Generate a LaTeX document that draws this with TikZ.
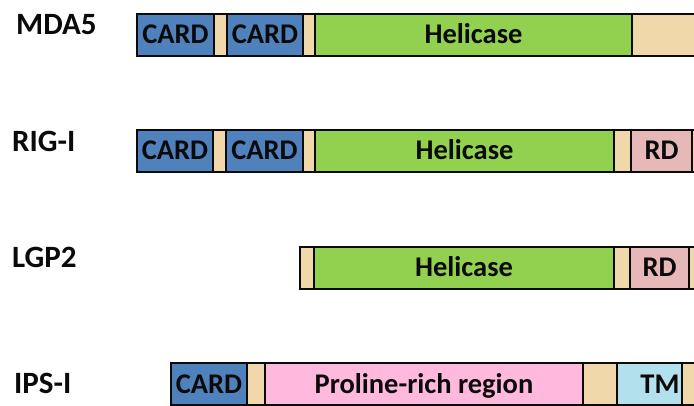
\documentclass[tikz,border=0pt]{standalone}
\usepackage{fontspec}
\setmainfont{Carlito}
\definecolor{cardblue}{RGB}{79,129,189}
\definecolor{helgreen}{RGB}{146,208,80}
\definecolor{linker}{RGB}{240,216,170}
\definecolor{rdpink}{RGB}{230,185,184}
\definecolor{propink}{RGB}{255,185,220}
\definecolor{tmblue}{RGB}{178,224,236}
\definecolor{ink}{RGB}{10,10,10}
\tikzset{
  seg/.style={draw=ink, line width=1.5pt, minimum height=42pt, inner sep=0pt,
    outer sep=0pt, anchor=north west, text=ink,
    font=\bfseries\fontsize{28.5}{32}\selectfont, text height=18pt, text depth=0pt},
  protname/.style={anchor=base west, inner sep=0pt, text=ink,
    font=\bfseries\fontsize{31}{36}\selectfont}
}
\begin{document}
\begin{tikzpicture}[x=1pt, y=-1pt]
\useasboundingbox (0,0) rectangle (694,406);
\clip (0,0) rectangle (694,406);

% MDA5
\node[protname] (lmda) at (16,35) {MDA5};
\node[seg, fill=cardblue, minimum width=77pt] (m1) at (137,14) {CARD};
\node[seg, fill=linker, minimum width=13pt] (m2) at (214,14) {};
\node[seg, fill=cardblue, minimum width=76pt] (m3) at (227,14) {CARD};
\node[seg, fill=linker, minimum width=12pt] (m4) at (303,14) {};
\node[seg, fill=helgreen, minimum width=317pt] (m5) at (315,14) {Helicase};
\node[seg, fill=linker, minimum width=80pt] (m6) at (632,14) {};

% RIG-I
\node[protname] (lrig) at (12,152) {RIG-I};
\node[seg, fill=cardblue, minimum width=76pt] (r1) at (137,130) {CARD};
\node[seg, fill=linker, minimum width=13pt] (r2) at (213,130) {};
\node[seg, fill=cardblue, minimum width=77pt] (r3) at (226,130) {CARD};
\node[seg, fill=linker, minimum width=12pt] (r4) at (303,130) {};
\node[seg, fill=helgreen, minimum width=299pt] (r5) at (315,130) {Helicase};
\node[seg, fill=linker, minimum width=17pt] (r6) at (614,130) {};
\node[seg, fill=rdpink, minimum width=61pt] (r7) at (631,130) {RD};
\node[seg, fill=linker, minimum width=20pt] (r8) at (692,130) {};

% LGP2
\node[protname] (llgp) at (12,268) {LGP2};
\node[seg, fill=linker, minimum width=14pt] (g1) at (300,247) {};
\node[seg, fill=helgreen, minimum width=300pt] (g2) at (314,247) {Helicase};
\node[seg, fill=linker, minimum width=16pt] (g3) at (614,247) {};
\node[seg, fill=rdpink, minimum width=59pt] (g4) at (630,247) {RD};
\node[seg, fill=linker, minimum width=20pt] (g5) at (689,247) {};

% IPS-I
\node[protname] (lips) at (14,393) {IPS-I};
\node[seg, fill=cardblue, minimum width=76pt] (i1) at (171,363) {CARD};
\node[seg, fill=linker, minimum width=18pt] (i2) at (247,363) {};
\node[seg, fill=propink, minimum width=318pt] (i3) at (265,363) {Proline-rich region};
\node[seg, fill=linker, minimum width=34pt] (i4) at (583,363) {};
\node[seg, fill=tmblue, minimum width=65pt, text width=60pt, align=right] (i5) at (617,363) {TM};
\node[seg, fill=linker, minimum width=20pt] (i6) at (682,363) {};
\end{tikzpicture}
\end{document}
